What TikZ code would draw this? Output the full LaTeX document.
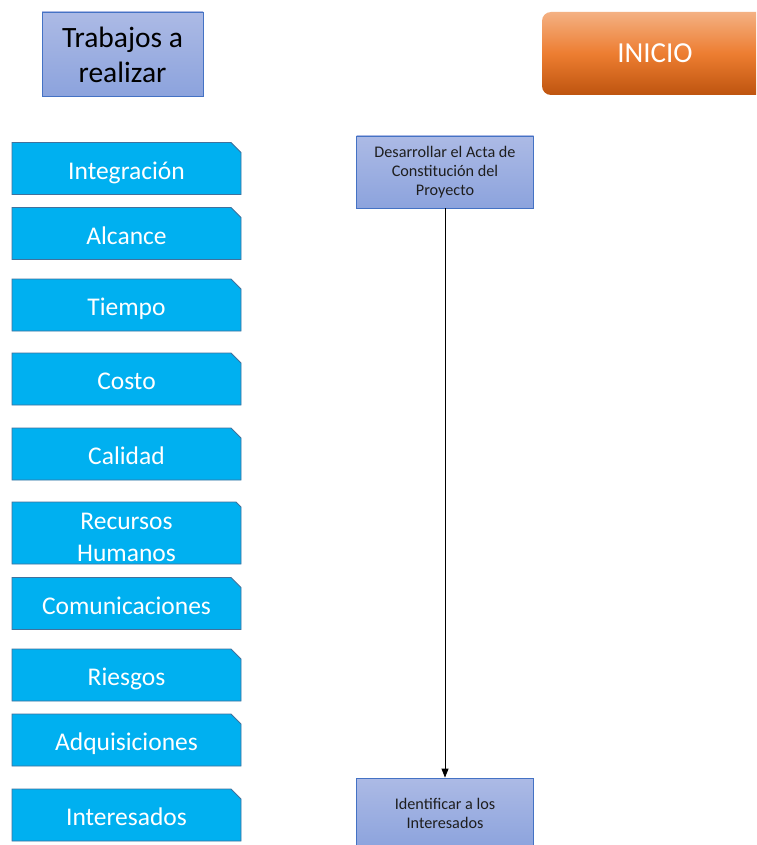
\documentclass[tikz,border=0pt]{standalone}
\usepackage{fontspec}
\setmainfont{Carlito}
\usetikzlibrary{shapes.misc,arrows.meta}
\definecolor{areafill}{RGB}{0,176,240}
\definecolor{areaedge}{RGB}{65,113,156}
\definecolor{boxtop}{RGB}{172,186,229}
\definecolor{boxbot}{RGB}{140,163,221}
\definecolor{boxedge}{RGB}{68,114,196}
\definecolor{orangetop}{RGB}{244,177,131}
\definecolor{orangemid}{RGB}{237,125,49}
\definecolor{orangebot}{RGB}{190,84,15}
\definecolor{smalltext}{RGB}{30,30,30}
\tikzset{
  areatext/.style={text=white, font=\fontsize{25.5}{32}\selectfont, align=center,
    inner sep=0pt},
  area/.style={areatext, chamfered rectangle, chamfered rectangle corners=north east,
    chamfered rectangle xsep=5pt, chamfered rectangle ysep=5pt,
    fill=areafill, draw=areaedge, line width=0.8pt,
    minimum width=229pt, minimum height=52pt,
    text height=21pt, text depth=0pt},
  bluebox/.style={rectangle, top color=boxtop, bottom color=boxbot,
    draw=boxedge, line width=0.8pt, inner sep=0pt, align=center},
  process/.style={bluebox, minimum width=177pt, text=smalltext,
    font=\fontsize{16.2}{19}\selectfont},
  flow/.style={line width=0.8pt, -{Triangle[length=9pt,width=7pt]}}
}
\begin{document}
\begin{tikzpicture}[x=1pt,y=-1pt]
\clip (0,0) rectangle (756,845);
\fill[white] (0,0) rectangle (756,845);

% header boxes
\node[bluebox, minimum width=161pt, minimum height=84pt,
  font=\fontsize{29.5}{35}\selectfont] (trabajos) at (122.5,54) {};
\node[align=center, inner sep=0pt, font=\fontsize{29.5}{35}\selectfont]
  (trabajos-text) at ([yshift=-1pt]trabajos.center) {Trabajos a\\realizar};
\node[rectangle, rounded corners=9pt, top color=orangetop, bottom color=orangebot,
  middle color=orangemid, minimum width=226pt, minimum height=83pt,
  text height=19pt, text depth=0pt,
  text=white, font=\fontsize{29}{34}\selectfont] (inicio) at (655,53.5) {INICIO};

% knowledge areas
\node[area] (integ) at (126.5,168.5) {Integración};
\node[area] (alc) at (126.5,233.5) {Alcance};
\node[area] (tiem) at (126.5,305) {Tiempo};
\node[area] (cost) at (126.5,379) {Costo};
\node[area] (cal) at (126.5,454) {Calidad};
\node[area, minimum height=62pt] (rrhh) at (126.5,533) {};
\node[areatext] (rrhh-text) at ([yshift=-4pt]rrhh.center) {Recursos\\Humanos};
\node[area] (com) at (126.5,603.5) {Comunicaciones};
\node[area] (ries) at (126.5,675) {Riesgos};
\node[area] (adq) at (126.5,740) {Adquisiciones};
\node[area] (int) at (126.5,815) {Interesados};

% processes
\node[process, minimum height=72pt] (acta) at (445,172)
  {Desarrollar el Acta de\\Constitución del\\Proyecto};
\node[process, minimum height=70pt] (ident) at (445,813)
  {Identificar a los\\Interesados};
\draw[flow] (acta) -- (ident);
\end{tikzpicture}
\end{document}
